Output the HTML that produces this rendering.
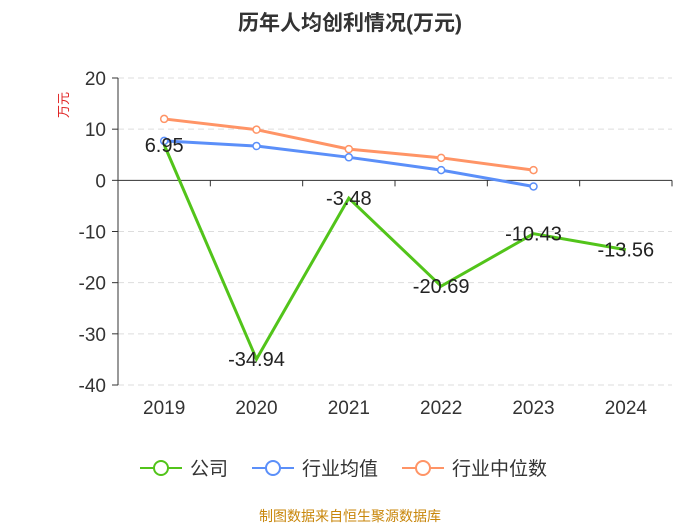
<!DOCTYPE html>
<html><head><meta charset="utf-8">
<style>
body{margin:0;background:#fff;}
svg{display:block;font-family:"Liberation Sans","Noto Sans CJK SC",sans-serif;}
</style></head>
<body>
<svg id="chart" width="700" height="525">
<text x="350" y="30" text-anchor="middle" font-size="21" font-weight="bold" fill="#333">历年人均创利情况(万元)</text>
<text transform="translate(68,105) rotate(-90)" text-anchor="middle" font-size="13" fill="#e02020">万元</text>
<g id="grid"></g><g id="axes"></g><g id="series"></g>
<g>
 <g><line x1="140" y1="468" x2="182" y2="468" stroke="#52c41a" stroke-width="2"/><circle cx="161" cy="468" r="7" fill="#fff" stroke="#52c41a" stroke-width="2"/><text x="190" y="475" font-size="19" fill="#333">公司</text></g>
 <g><line x1="252" y1="468" x2="294" y2="468" stroke="#5b8ff9" stroke-width="2"/><circle cx="273" cy="468" r="7" fill="#fff" stroke="#5b8ff9" stroke-width="2"/><text x="302" y="475" font-size="19" fill="#333">行业均值</text></g>
 <g><line x1="402" y1="468" x2="444" y2="468" stroke="#ff9466" stroke-width="2"/><circle cx="423" cy="468" r="7" fill="#fff" stroke="#ff9466" stroke-width="2"/><text x="452" y="475" font-size="19" fill="#333">行业中位数</text></g>
</g>
<text x="350" y="521" text-anchor="middle" font-size="14" fill="#c8860a">制图数据来自恒生聚源数据库</text>
</svg>
<script>
const categories=["2019","2020","2021","2022","2023","2024"];
const companyValues=[6.95,-34.94,-3.48,-20.69,-10.43,-13.56];
const avgValues=[7.7,6.7,4.5,2.0,-1.2];
const medianValues=[12.0,9.9,6.1,4.4,2.0];
const yTicks=[20,10,0,-10,-20,-30,-40];
const NS="http://www.w3.org/2000/svg";
const L=118,R=672,T=78,B=385,ymax=20,ymin=-40;
const bw=(R-L)/categories.length;
const xs=i=>L+bw*(i+0.5);
const ys=v=>T+(ymax-v)/(ymax-ymin)*(B-T);
function mk(tag,attrs,parent){const e=document.createElementNS(NS,tag);for(const k in attrs)e.setAttribute(k,attrs[k]);parent.appendChild(e);return e;}
const grid=document.getElementById('grid'),axes=document.getElementById('axes'),ser=document.getElementById('series');
yTicks.forEach(t=>{
 const y=ys(t);
 if(t!==0){const g=mk('line',{x1:L,x2:R,y1:y,y2:y,stroke:'#ddd','stroke-dasharray':'6,4'},grid);
 
 }
 mk('line',{x1:L-6,x2:L,y1:y,y2:y,stroke:'#333'},axes);
 const tx=mk('text',{x:L-12,y:y+7,'text-anchor':'end','font-size':19,fill:'#333'},axes);tx.textContent=t;
 
 
});
mk('line',{x1:L,x2:L,y1:T,y2:B,stroke:'#333'},axes);
const x0=mk('line',{x1:L,x2:R,y1:ys(0),y2:ys(0),stroke:'#333'},axes);


categories.forEach((c,i)=>{
 mk('line',{x1:L+bw*i,x2:L+bw*i,y1:ys(0),y2:ys(0)+6,stroke:'#333'},axes);
 const tx=mk('text',{x:xs(i),y:414,'text-anchor':'middle','font-size':19,fill:'#333'},axes);tx.textContent=c;
 
 
});
mk('line',{x1:R,x2:R,y1:ys(0),y2:ys(0)+6,stroke:'#333'},axes);
function line(vals,color,name,markers){
 const p=mk('polyline',{points:vals.map((v,i)=>xs(i)+','+ys(v)).join(' '),fill:'none',stroke:color,'stroke-width':3},ser);
 
 
 if(markers)vals.forEach((v,i)=>{const c=mk('circle',{cx:xs(i),cy:ys(v),r:3.5,fill:'#fff',stroke:color,'stroke-width':1.5},ser);
 
 });
}
line(medianValues,'#ff9466','industry-median',true);
line(avgValues,'#5b8ff9','industry-avg',true);
line(companyValues,'#52c41a','company',false);
companyValues.forEach((v,i)=>{
 const tx=mk('text',{x:xs(i),y:ys(v)+7,'text-anchor':'middle','font-size':20,fill:'#222'},ser);tx.textContent=v;
 
 
});
</script>
</body></html>
